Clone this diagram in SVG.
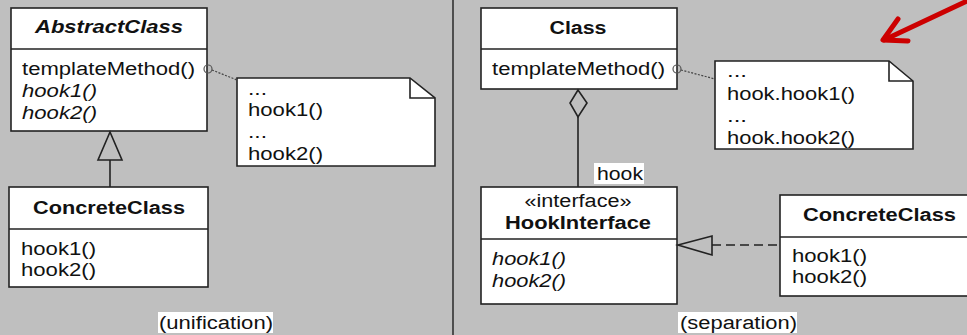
<svg xmlns="http://www.w3.org/2000/svg" width="967" height="335" viewBox="0 0 967 335">
<style>
  text { font-family: "Liberation Sans", Arial, sans-serif; font-size: 18px; fill: #111; }
  .b { font-weight: bold; }
  .i { font-style: italic; }
  .bi { font-weight: bold; font-style: italic; }
  .box { fill: #fff; stroke: #222; stroke-width: 1.6; }
  .ln { fill: none; stroke: #222; stroke-width: 1.6; }
  .dot { fill: none; stroke: #444; stroke-width: 1.2; stroke-dasharray: 2 1.5; }
  .lbl { fill: #fff; }
  .mid { text-anchor: middle; }
</style>
<rect x="0" y="0" width="967" height="335" fill="#bfbfbf"/>
<line x1="453" y1="0" x2="453" y2="335" stroke="#333" stroke-width="1.6"/>

<!-- Left panel -->
<g id="abstractClass">
  <rect class="box" x="11" y="8" width="196" height="123"/>
  <line class="ln" x1="11" y1="49" x2="207" y2="49"/>
  <text class="bi mid" x="109" y="33" textLength="148" lengthAdjust="spacingAndGlyphs">AbstractClass</text>
  <text x="22" y="75" textLength="173" lengthAdjust="spacingAndGlyphs">templateMethod()</text>
  <text class="i" x="22" y="97" textLength="75" lengthAdjust="spacingAndGlyphs">hook1()</text>
  <text class="i" x="22" y="119" textLength="75" lengthAdjust="spacingAndGlyphs">hook2()</text>
</g>
<g id="noteLeft">
  <path class="box" d="M237,78 L410,78 L435,98 L435,166 L237,166 Z"/>
  <path class="ln" d="M410,78 L410,98 L435,98"/>
  <text x="248" y="95" textLength="19" lengthAdjust="spacingAndGlyphs">...</text>
  <text x="248" y="116" textLength="75" lengthAdjust="spacingAndGlyphs">hook1()</text>
  <text x="248" y="138" textLength="19" lengthAdjust="spacingAndGlyphs">...</text>
  <text x="248" y="160" textLength="75" lengthAdjust="spacingAndGlyphs">hook2()</text>
</g>
<g id="concreteClassLeft">
  <rect class="box" x="9" y="187" width="199" height="100"/>
  <line class="ln" x1="9" y1="229" x2="208" y2="229"/>
  <text class="b mid" x="109" y="214" textLength="152" lengthAdjust="spacingAndGlyphs">ConcreteClass</text>
  <text x="21" y="255" textLength="75" lengthAdjust="spacingAndGlyphs">hook1()</text>
  <text x="21" y="276" textLength="75" lengthAdjust="spacingAndGlyphs">hook2()</text>
</g>
<g id="labelUnification">
  <rect class="lbl" x="158" y="312" width="115" height="21"/>
  <text x="159" y="329" textLength="114" lengthAdjust="spacingAndGlyphs">(unification)</text>
</g>

<!-- Right panel -->
<g id="class">
  <rect class="box" x="481" y="8" width="196" height="81"/>
  <line class="ln" x1="481" y1="49" x2="677" y2="49"/>
  <text class="b mid" x="578" y="34" textLength="57" lengthAdjust="spacingAndGlyphs">Class</text>
  <text x="492" y="75" textLength="173" lengthAdjust="spacingAndGlyphs">templateMethod()</text>
</g>
<g id="noteRight">
  <path class="box" d="M715,61 L889,61 L913,81 L913,149 L715,149 Z"/>
  <path class="ln" d="M889,61 L889,81 L913,81"/>
  <text x="727" y="77" textLength="20" lengthAdjust="spacingAndGlyphs">...</text>
  <text x="727" y="100" textLength="128" lengthAdjust="spacingAndGlyphs">hook.hook1()</text>
  <text x="727" y="122" textLength="20" lengthAdjust="spacingAndGlyphs">...</text>
  <text x="727" y="144" textLength="128" lengthAdjust="spacingAndGlyphs">hook.hook2()</text>
</g>
<g id="hookInterface">
  <rect class="box" x="481" y="187" width="196" height="117"/>
  <line class="ln" x1="481" y1="239" x2="677" y2="239"/>
  <text class="mid" x="578" y="207" textLength="107" lengthAdjust="spacingAndGlyphs">«interface»</text>
  <text class="b mid" x="578" y="229" textLength="146" lengthAdjust="spacingAndGlyphs">HookInterface</text>
  <text class="i" x="492" y="265" textLength="74" lengthAdjust="spacingAndGlyphs">hook1()</text>
  <text class="i" x="492" y="287" textLength="74" lengthAdjust="spacingAndGlyphs">hook2()</text>
</g>
<g id="concreteClassRight">
  <rect class="box" x="780" y="195" width="200" height="101"/>
  <line class="ln" x1="780" y1="237" x2="980" y2="237"/>
  <text class="b" x="803" y="221" textLength="153" lengthAdjust="spacingAndGlyphs">ConcreteClass</text>
  <text x="792" y="262" textLength="75" lengthAdjust="spacingAndGlyphs">hook1()</text>
  <text x="792" y="283" textLength="75" lengthAdjust="spacingAndGlyphs">hook2()</text>
</g>
<g id="labelSeparation">
  <rect class="lbl" x="678" y="312" width="119" height="21"/>
  <text x="680" y="329" textLength="117" lengthAdjust="spacingAndGlyphs">(separation)</text>
</g>
<g id="redArrow">
  <path d="M967,1 L884,40" fill="none" stroke="#cc0000" stroke-width="5" stroke-linecap="round"/>
  <path d="M898,19 L883,40 L908,41" fill="none" stroke="#cc0000" stroke-width="5" stroke-linecap="round" stroke-linejoin="round"/>
</g>

<!-- Connectors -->
<g id="connectors">
  <circle cx="208" cy="69" r="4" fill="none" stroke="#555" stroke-width="1.2"/>
  <line class="dot" x1="212" y1="70" x2="237" y2="80"/>
  <path class="ln" d="M110,132 L98,160 L122,160 Z"/>
  <line class="ln" x1="110" y1="160" x2="110" y2="187"/>

  <circle cx="677" cy="69" r="4" fill="none" stroke="#555" stroke-width="1.2"/>
  <line class="dot" x1="681" y1="70" x2="715" y2="79"/>
  <path class="ln" d="M578,90 L570,103 L578,117 L587,103 Z"/>
  <line class="ln" x1="578" y1="117" x2="578" y2="187"/>
  <rect class="lbl" x="594" y="163" width="50" height="21"/>
  <text x="597" y="180" textLength="46" lengthAdjust="spacingAndGlyphs">hook</text>
  <path class="ln" d="M678,245 L712,236 L712,255 Z"/>
  <line class="ln" x1="712" y1="245" x2="780" y2="245" stroke-dasharray="9 5"/>
</g>
</svg>
